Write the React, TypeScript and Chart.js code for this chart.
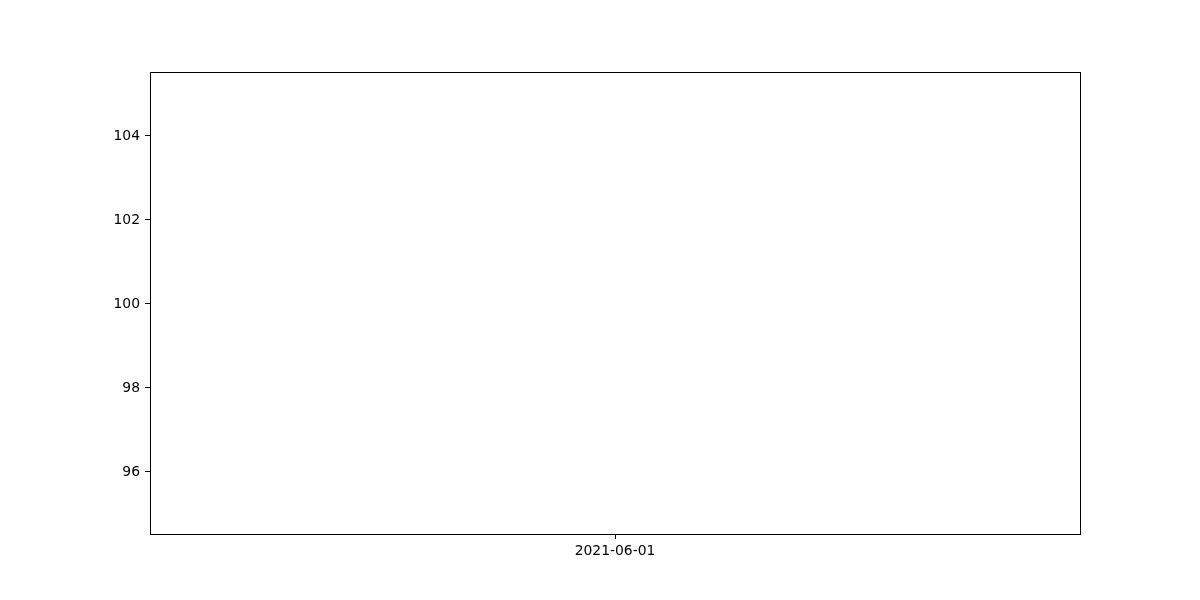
import React, { useEffect, useRef } from "react";
import { Chart, registerables } from "chart.js";

Chart.register(...registerables);

const categories = ["2021-06-01"];
const values = [100];
const yTickValues = [96, 98, 100, 102, 104];
const yMin = 94.5;
const yMax = 105.5;

const FONT = { family: "'DejaVu Sans', sans-serif", size: 13.9 };

export default function App() {
  const ref = useRef<HTMLCanvasElement>(null);

  useEffect(() => {
    document.body.style.margin = "0";
    const frame = {
      id: "frame",
      afterDraw(chart: any) {
        const { ctx, chartArea: a } = chart;
        ctx.save();
        ctx.strokeStyle = "#000";
        ctx.lineWidth = 1;
        ctx.strokeRect(
          Math.round(a.left) + 0.5,
          Math.round(a.top) + 0.5,
          Math.round(a.right) - Math.round(a.left),
          Math.round(a.bottom) - Math.round(a.top)
        );
        ctx.restore();
      },
    };

    const chart = new Chart(ref.current as HTMLCanvasElement, {
      type: "line",
      data: {
        labels: categories,
        datasets: [
          {
            data: values,
            pointRadius: 0,
            borderWidth: 0,
            showLine: false,
            borderColor: "rgba(0,0,0,0)",
          },
        ],
      },
      options: {
        animation: false,
        responsive: false,
        layout: { padding: { left: 0, top: 72, right: 120, bottom: 0 } },
        plugins: {
          legend: { display: false },
          tooltip: { enabled: false },
        },
        scales: {
          x: {
            type: "category",
            offset: true,
            border: { display: false },
            grid: {
              display: true,
              drawOnChartArea: false,
              drawTicks: true,
              tickLength: 5,
              color: "#000",
              offset: false,
            },
            ticks: { color: "#000", font: FONT, padding: 4, maxRotation: 0 },
            afterFit(scale: any) {
              scale.height = 66;
            },
          },
          y: {
            type: "linear",
            min: yMin,
            max: yMax,
            border: { display: false },
            grid: {
              display: true,
              drawOnChartArea: false,
              drawTicks: true,
              tickLength: 5,
              color: "#000",
            },
            ticks: { color: "#000", font: FONT, padding: 5, labelOffset: 1.5 },
            afterBuildTicks(scale: any) {
              scale.ticks = yTickValues.map((v) => ({ value: v }));
            },
            afterFit(scale: any) {
              scale.width = 150;
            },
          },
        },
      },
      plugins: [frame],
    });
    return () => chart.destroy();
  }, []);

  return (
    <div style={{ position: "absolute", left: 0, top: 0, width: 1200, height: 600, background: "#fff" }}>
      <canvas ref={ref} width={1200} height={600} style={{ width: 1200, height: 600 }} />
    </div>
  );
}
